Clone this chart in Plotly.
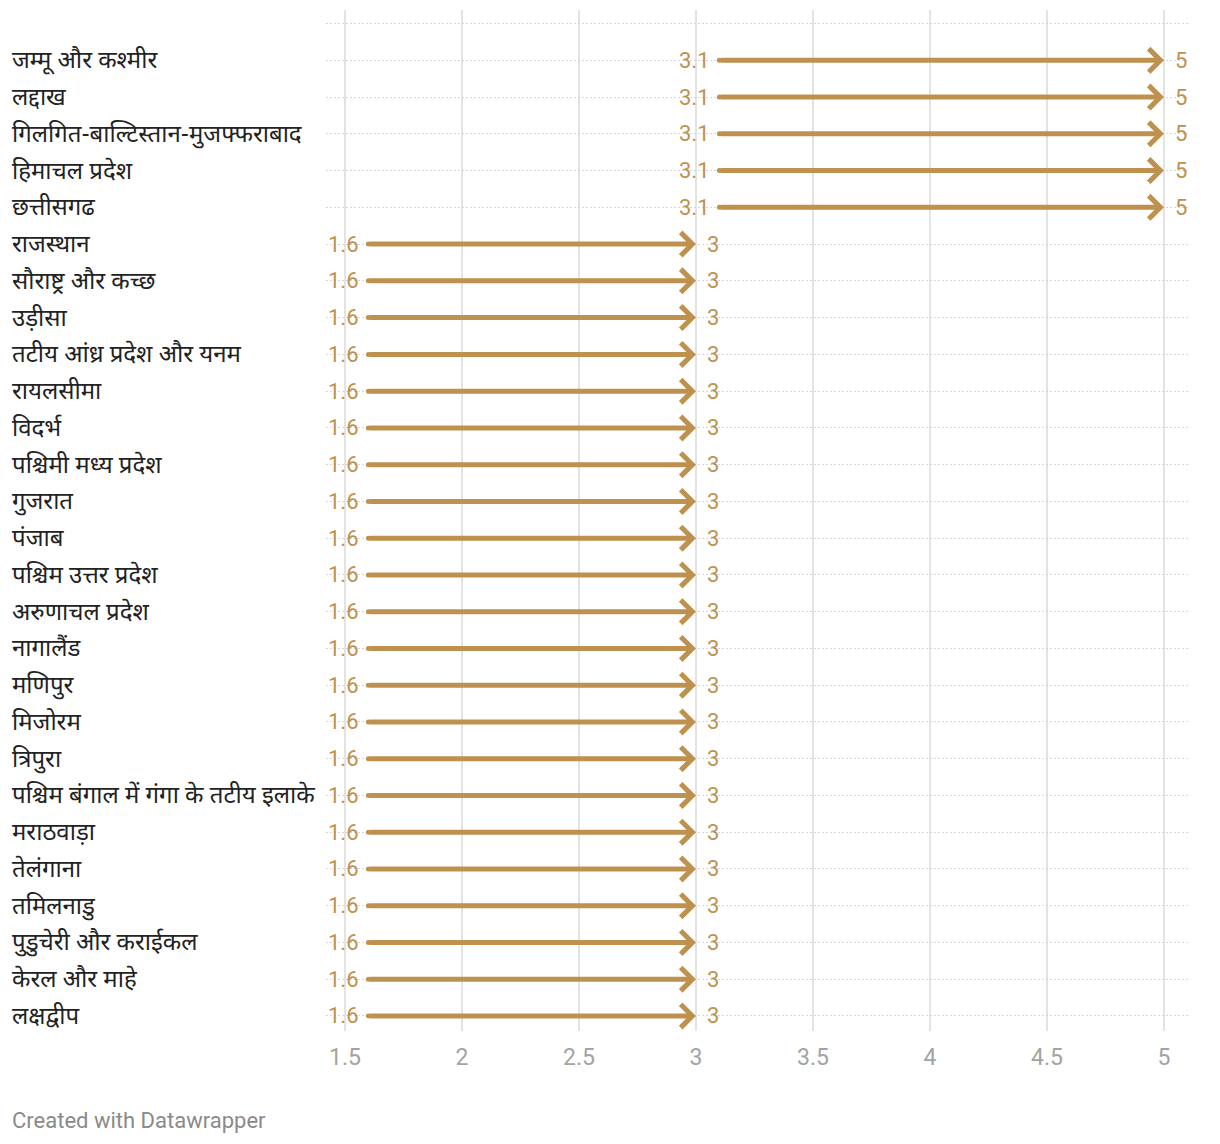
import plotly.graph_objects as go

regions = [
    "जम्मू और कश्मीर", "लद्दाख", "गिलगित-बाल्टिस्तान-मुजफ्फराबाद", "हिमाचल प्रदेश", "छत्तीसगढ",
    "राजस्थान", "सौराष्ट्र और कच्छ", "उड़ीसा", "तटीय आंध्र प्रदेश और यनम", "रायलसीमा",
    "विदर्भ", "पश्चिमी मध्य प्रदेश", "गुजरात", "पंजाब", "पश्चिम उत्तर प्रदेश",
    "अरुणाचल प्रदेश", "नागालैंड", "मणिपुर", "मिजोरम", "त्रिपुरा",
    "पश्चिम बंगाल में गंगा के तटीय इलाके", "मराठवाड़ा", "तेलंगाना", "तमिलनाडु",
    "पुडुचेरी और कराईकल", "केरल और माहे", "लक्षद्वीप",
]
start_vals = [3.1] * 5 + [1.6] * 22
end_vals = [5] * 5 + [3] * 22
x_ticks = [1.5, 2, 2.5, 3, 3.5, 4, 4.5, 5]

ARROW = "#bf914e"
LABEL_FONT = "Noto Sans Devanagari, Noto Sans, Roboto, sans-serif"
NUM_FONT = "Roboto, sans-serif"

rows = list(range(len(regions)))

fig = go.Figure()
# rounded start caps
fig.add_trace(go.Scatter(
    x=start_vals, y=rows, mode="markers",
    marker=dict(color=ARROW, size=5, line=dict(width=0)),
    hoverinfo="skip", showlegend=False,
))

annotations = []
for i, (name, s, e) in enumerate(zip(regions, start_vals, end_vals)):
    annotations.append(dict(
        x=e, y=i, ax=s, ay=i, xref="x", yref="y", axref="x", ayref="y",
        text="", showarrow=True, arrowhead=4, arrowsize=0.9, arrowwidth=5,
        arrowcolor=ARROW,
    ))
    annotations.append(dict(
        x=s, y=i, xref="x", yref="y", text=f"{s:g}", showarrow=False,
        xanchor="right", xshift=-7, font=dict(family=NUM_FONT, size=22, color=ARROW),
    ))
    annotations.append(dict(
        x=e, y=i, xref="x", yref="y", text=f"{e:g}", showarrow=False,
        xanchor="left", xshift=9, font=dict(family=NUM_FONT, size=22, color=ARROW),
    ))
    annotations.append(dict(
        x=-(326 - 10) / 862, y=i, xref="paper", yref="y", text=name, showarrow=False,
        xanchor="left", yshift=-2, font=dict(family=LABEL_FONT, size=24, color="#222222"),
    ))

annotations.append(dict(
    x=-(326 - 10) / 862, y=-(1120 - 1031) / 1021, xref="paper", yref="paper",
    text="Created with Datawrapper", showarrow=False, xanchor="left", yanchor="middle",
    font=dict(family=NUM_FONT, size=22, color="#8a8a8a"),
))

fig.update_layout(
    width=1220, height=1144,
    margin=dict(l=326, r=32, t=10, b=113),
    plot_bgcolor="white", paper_bgcolor="white",
    showlegend=False,
    annotations=annotations,
    xaxis=dict(
        range=[1.5 - 19 / 234, 5 + 24 / 234], tickvals=x_ticks,
        ticktext=[f"{v:g}" for v in x_ticks],
        showgrid=True, gridcolor="#e3e3e3", gridwidth=2, zeroline=False,
        showline=False, ticks="", ticklabelstandoff=10,
        tickfont=dict(family=NUM_FONT, size=23, color="#a3a3a3"),
    ),
    yaxis=dict(
        range=[26.41, -1.37], tickvals=list(range(-1, len(regions))),
        showticklabels=False, showgrid=True, gridcolor="#d6d6d6", gridwidth=1,
        griddash="2px,2px", zeroline=False, showline=False, ticks="",
    ),
)

fig.write_html("out.html", config={"displayModeBar": False},
               post_script="document.body.style.margin='0';")
